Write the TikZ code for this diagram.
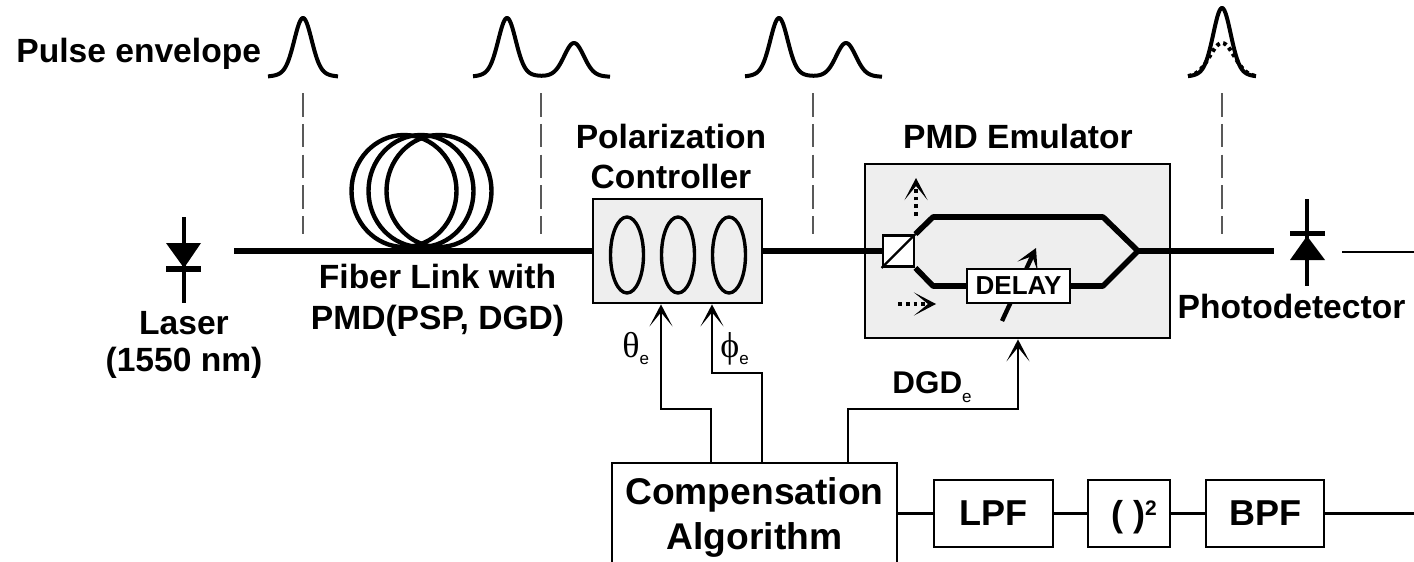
\documentclass[tikz,border=0pt]{standalone}
\usepackage{fontspec}
\setmainfont{Liberation Sans}
\newfontfamily\greekserif{Liberation Serif}
\usetikzlibrary{arrows.meta,shapes.geometric,calc}
\definecolor{panel}{HTML}{EEEEEE}
\newcommand{\lab}{\bfseries\fontsize{16.8}{20}\selectfont}
\newcommand{\subE}[1]{\raisebox{-#1}{\mdseries\fontsize{8.5}{9}\selectfont e}}
\tikzset{
  x=0.5pt,y=-0.5pt,
  tipopen/.style={-{Stealth[length=11pt,width=11.5pt,inset=7pt]}},
  dotarrow/.style={line width=1.9pt,dash pattern=on 1.9pt off 2pt,-{Stealth[length=11pt,width=11.5pt,inset=7pt]}},
  thinline/.style={line width=1.4pt},
  fiber/.style={line width=3pt},
  armline/.style={line width=2.8pt},
  guide/.style={line width=0.7pt,draw=black!65,dash pattern=on 11.8pt off 3.6pt},
  pulseline/.style={line width=2pt},
  panelbox/.style={draw,line width=1.4pt,fill=panel,inner sep=0pt},
  blockbox/.style={draw,line width=1.4pt,fill=white,inner sep=0pt},
  loop/.style={draw,ellipse,line width=2.2pt,inner sep=0pt,minimum width=52.5pt,minimum height=56pt},
  pcloop/.style={draw,ellipse,line width=1.7pt,inner sep=0pt,minimum width=16.5pt,minimum height=38pt},
  label/.style={inner sep=0pt,align=center,font=\lab},
}
% one pulse: weight of core + weight of tail, d = \x
\newcommand{\pk}[2]{(0.88*exp(-(#1)*(#1)/(2*#2*#2))+0.12*exp(-(#1)*(#1)/500))}
\begin{document}
\begin{tikzpicture}
\useasboundingbox (0,0) rectangle (1414,562);

% ---- pulses
\node[label,anchor=base west] (pulselab) at (16,62) {Pulse envelope};
\draw[pulseline] plot[domain=-35:35,samples=80] ({303+\x},{77-59*\pk{\x}{8.5}});
\draw[pulseline] plot[domain=-34:103,samples=140] ({507+\x},{77-59*\pk{\x}{8.5}-34*\pk{\x-67}{9.5}});
\draw[pulseline] plot[domain=-34:103,samples=140] ({779+\x},{77-59*\pk{\x}{8.5}-34*\pk{\x-67}{9.5}});
\draw[pulseline] plot[domain=-34:34,samples=80] ({1222+\x},{77-69*\pk{\x}{8.5}});
\draw[pulseline,dash pattern=on 1.8pt off 1.8pt] plot[domain=-34:34,samples=80] ({1222+\x},{77-34*\pk{\x}{12}});

% ---- guides
\coordinate (g1a) at (303,93);  \coordinate (g1b) at (303,234);
\coordinate (g2a) at (541,93);  \coordinate (g2b) at (541,234);
\coordinate (g3a) at (813,93);  \coordinate (g3b) at (813,234);
\coordinate (g4a) at (1222,93); \coordinate (g4b) at (1222,234);
\draw[guide] (g1a) -- (g1b);
\draw[guide] (g2a) -- (g2b);
\draw[guide] (g3a) -- (g3b);
\draw[guide] (g4a) -- (g4b);

% ---- laser
\coordinate (lasertop) at (184,217);
\coordinate (laserbot) at (184,303);
\draw[line width=1.9pt] (lasertop) -- (laserbot);
\fill (166,243) -- (201,243) -- (184,268) -- cycle;
\draw[line width=2.8pt] (166,269) -- (201,269);
\node[inner sep=0pt,align=center,font=\bfseries\fontsize{16.8}{18.5}\selectfont] (laserlab) at (184,345) {Laser\\(1550 nm)};

% ---- fibre coil
\node[loop] (coilA) at (404,191) {};
\node[loop] (coilB) at (421,191) {};
\node[loop] (coilC) at (439,191) {};
\node[label] (fiberlab) at (437.5,300) {Fiber Link with\hspace{5pt}\\[0.5pt]PMD(PSP, DGD)};

% ---- polarization controller
\node[panelbox,minimum width=84.5pt,minimum height=52pt] (pc) at (677.5,251) {};
\node[pcloop] (pcA) at (627,255) {};
\node[pcloop] (pcB) at (678,255) {};
\node[pcloop] (pcC) at (729,255) {};
\node[label] (pclab) at (671,156) {Polarization\\Controller};

% ---- PMD emulator
\node[panelbox,minimum width=152.5pt,minimum height=87pt] (pmd) at (1017.5,251) {};
\node[label,anchor=base] (pmdlab) at (1018,148) {PMD Emulator};
\coordinate (upA) at (933,217);
\coordinate (upB) at (1103,217);
\coordinate (merge) at (1138,251);
\coordinate (loA) at (933,286);
\coordinate (loB) at (1103,286);
\node[draw,line width=1.4pt,fill=white,inner sep=0pt,minimum size=15.5pt] (split) at (898.5,251) {};
\draw[line width=1.2pt] (split.south west) -- (split.north east);
\draw[armline,line join=round] (split.north east) -- (upA) -- (upB) -- (merge) -- (loB) -- (loA) -- (split.south east);
\coordinate (dlyfrom) at (1002,321);
\coordinate (dlyto) at (1036,248);
\draw[line width=2.2pt,-{Stealth[length=10pt,width=11pt,inset=5.5pt]}] (dlyfrom) -- (dlyto);
\node[draw,line width=1.2pt,fill=white,inner sep=0pt,minimum width=51.5pt,minimum height=17pt,font=\bfseries\fontsize{13}{15}\selectfont] (delay) at (1018.5,286) {DELAY};
\coordinate (dotupA) at (916,216);
\coordinate (dotupB) at (916,178);
\coordinate (dotrtA) at (898,304);
\coordinate (dotrtB) at (936,304);
\draw[dotarrow] (dotupA) -- (dotupB);
\draw[dotarrow] (dotrtA) -- (dotrtB);

% ---- main fibre
\coordinate (fstart) at (234,251);
\coordinate (fend) at (1274,251);
\draw[fiber] (fstart) -- (pc.west);
\draw[fiber] (pc.east) -- (split.west);
\draw[fiber] (merge) -- (fend);

% ---- photodetector
\coordinate (pdtop) at (1307,199);
\coordinate (pdbot) at (1307,286);
\coordinate (pdout) at (1342,252);
\coordinate (pdend) at (1414,252);
\draw[line width=1.9pt] (pdtop) -- (pdbot);
\fill (1290,260) -- (1325,260) -- (1307,236) -- cycle;
\draw[line width=2.8pt] (1290,233.5) -- (1325,233.5);
\draw[thinline] (pdout) -- (pdend);
\node[label,anchor=base] (pdlab) at (1291.5,318) {Photodetector};

% ---- algorithm block, open at the bottom
\coordinate (cbl) at (612,562);
\coordinate (ctl) at (612,463);
\coordinate (ctr) at (897,463);
\coordinate (cbr) at (897,562);
\draw[thinline] (cbl) -- (ctl) -- (ctr) -- (cbr);
\node[inner sep=0pt,align=center,font=\bfseries\fontsize{18.6}{22.5}\selectfont] (comp) at (754.5,517) {Compensation\\Algorithm};

% ---- filter chain
\node[blockbox,minimum width=59.5pt,minimum height=33.5pt,font=\bfseries\fontsize{18}{20}\selectfont] (lpf) at (993.5,513.5) {LPF};
\node[blockbox,minimum width=41pt,minimum height=33.5pt] (sq) at (1129,513.5) {};
\node[inner sep=0pt,anchor=base,font=\bfseries\fontsize{18}{20}\selectfont] (sqlab) at (1134,526) {( )\raisebox{5.5pt}{\fontsize{10.5}{11}\selectfont 2}};
\node[blockbox,minimum width=59pt,minimum height=33.5pt,font=\bfseries\fontsize{18}{20}\selectfont] (bpf) at (1265,513.5) {BPF};
\coordinate (chainin) at (897,513.5);
\coordinate (chainout) at (1414,513.5);
\draw[thinline] (chainin) -- (lpf);
\draw[thinline] (lpf) -- (sq);
\draw[thinline] (sq) -- (bpf);
\draw[thinline] (bpf) -- (chainout);

% ---- control lines
\coordinate (c1) at (711,463);
\coordinate (c2) at (762,463);
\coordinate (c3) at (848,463);
\coordinate (b1) at (661,409);
\coordinate (b2) at (712,373);
\coordinate (b3) at (1018,409);
\draw[thinline,tipopen] (c1) |- (b1) -- (b1 |- pc.south);
\draw[thinline,tipopen] (c2) |- (b2) -- (b2 |- pc.south);
\draw[thinline,tipopen] (c3) |- (b3) -- (b3 |- pmd.south);

\node[inner sep=0pt,anchor=base west,font=\fontsize{18}{20}\selectfont] (theta) at (622,357) {{\greekserif θ}\subE{3.5pt}};
\node[inner sep=0pt,anchor=base west,font=\fontsize{18}{20}\selectfont] (phi) at (720,357) {{\greekserif ϕ}\subE{3.5pt}};
\node[inner sep=0pt,anchor=base west,font=\bfseries\fontsize{15.7}{18}\selectfont] (dgdlab) at (892,393) {DGD\subE{4.5pt}};
\end{tikzpicture}
\end{document}
